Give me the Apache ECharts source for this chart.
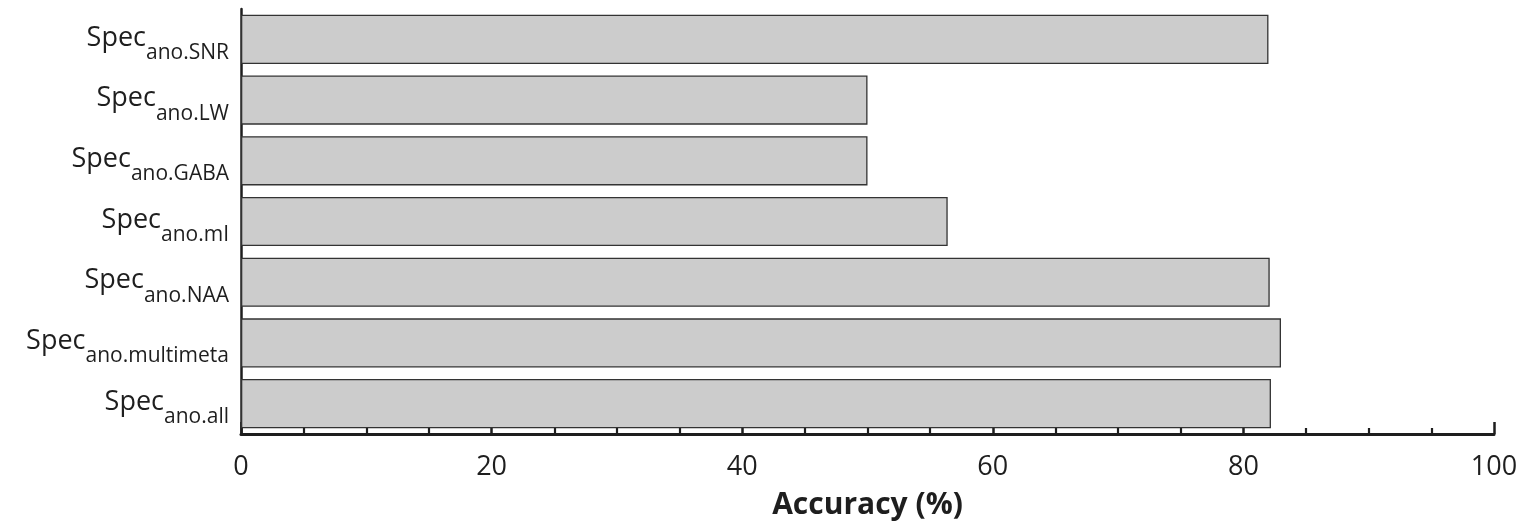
<!DOCTYPE html>
<html>
<head>
<meta charset="utf-8">
<script src="https://cdn.jsdelivr.net/npm/echarts@6/dist/echarts.min.js"></script>
<style>
  html, body { margin: 0; padding: 0; background: #fff; }
  #chart { width: 1522px; height: 526px; }
</style>
</head>
<body>
<div id="chart"></div>
<script>
// categories top to bottom (subscript part of the label)
const categories = ["ano.SNR", "ano.LW", "ano.GABA", "ano.mI", "ano.NAA", "ano.multimeta", "ano.all"];
// accuracy values (%)
const accuracy = [82.0, 50.0, 50.0, 56.4, 82.1, 83.0, 82.2];
const xTicks = [0, 20, 40, 60, 80, 100];

const font = "Open Sans";
const ink = "#1e1e1e";

let myChart = echarts.init(document.getElementById("chart"));
let option = {
  animation: false,
  backgroundColor: "#fff",
  grid: {
    left: 241,
    right: 28,
    top: 9,
    bottom: 92,
    outerBoundsMode: "none"
  },
  xAxis: {
    type: "value",
    min: xTicks[0],
    max: xTicks[xTicks.length - 1],
    interval: 20,
    name: "Accuracy (%)",
    nameLocation: "middle",
    nameGap: 56,
    nameTextStyle: {
      fontFamily: font,
      fontSize: 30,
      fontWeight: "bold",
      color: ink
    },
    axisLine: {
      show: true,
      lineStyle: { color: ink, width: 3 }
    },
    axisTick: {
      show: true,
      inside: true,
      length: 12,
      lineStyle: { color: ink, width: 2.5 }
    },
    minorTick: {
      show: true,
      splitNumber: 4,
      length: 6,
      lineStyle: { color: ink, width: 2.2 }
    },
    splitLine: { show: false },
    axisLabel: {
      margin: 20,
      fontFamily: font,
      fontSize: 27,
      color: ink
    }
  },
  yAxis: {
    type: "category",
    inverse: true,
    data: categories,
    axisLine: {
      show: true,
      lineStyle: { color: ink, width: 2.5 }
    },
    axisTick: {
      show: true,
      inside: true,
      alignWithLabel: true,
      length: 11,
      lineStyle: { color: ink, width: 2.5 }
    },
    axisLabel: {
      margin: 12,
      formatter: function (v) {
        return "{m|Spec}{s|" + v + "}";
      },
      rich: {
        m: {
          fontFamily: font,
          fontSize: 27,
          lineHeight: 30,
          verticalAlign: "top",
          color: ink
        },
        s: {
          fontFamily: font,
          fontSize: 21,
          lineHeight: 24,
          padding: [18, 0, 0, 0],
          verticalAlign: "top",
          color: ink
        }
      }
    }
  },
  series: [
    {
      type: "bar",
      data: accuracy,
      barCategoryGap: "19%",
      itemStyle: {
        color: "#cccccc",
        borderColor: "#333",
        borderWidth: 1.3
      }
    }
  ]
};
myChart.setOption(option);
</script>
</body>
</html>
